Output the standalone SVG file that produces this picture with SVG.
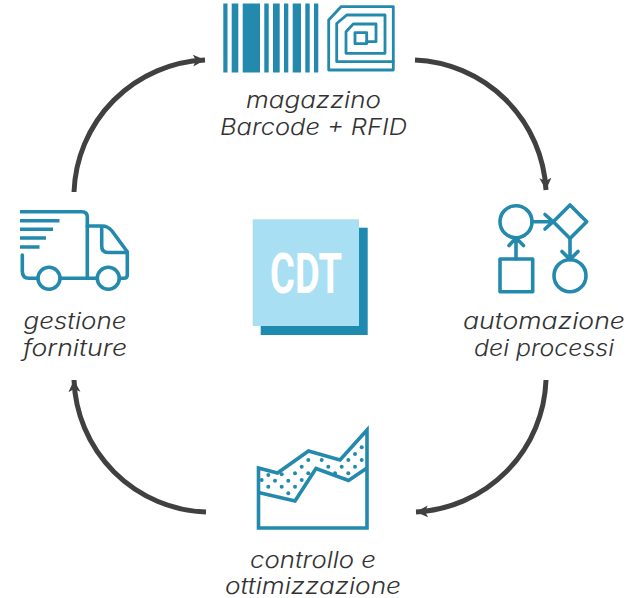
<svg xmlns="http://www.w3.org/2000/svg" width="638" height="598" viewBox="0 0 638 598">
<style>
.ln{fill:none;stroke:#2389ad;stroke-width:3.600;stroke-linejoin:round;stroke-linecap:round}
.bar{fill:#2389ad}
.dot{fill:#2389ad}
.lb{font-family:"Inter","Liberation Sans",sans-serif;font-style:italic;font-weight:300;font-size:22.500px;fill:#333}
.arc{fill:none;stroke:#404040;stroke-width:5}
</style>
<defs>
<marker id="ah" markerUnits="userSpaceOnUse" markerWidth="14" markerHeight="14" refX="12" refY="6" orient="auto">
<path d="M0 0L12 6L0 12L3 6Z" fill="#404040"/>
</marker>
</defs>
<rect width="638" height="598" fill="#fff"/>
<g id="connectors">
<path class="arc" d="M415 60A137 137 0 0 1 546 190" marker-end="url(#ah)"/>
<path class="arc" d="M546 380A137 137 0 0 1 416 512" marker-end="url(#ah)"/>
<path class="arc" d="M206 512A137 137 0 0 1 74 380" marker-end="url(#ah)"/>
<path class="arc" d="M74 192A137 137 0 0 1 205 60" marker-end="url(#ah)"/>
</g>
<g id="magazzino">
<g class="bar">
<rect x="223.300" y="3.500" width="4.200" height="69"/>
<rect x="231.700" y="3.500" width="6.600" height="69"/>
<rect x="242.700" y="3.500" width="17.300" height="69"/>
<rect x="264.300" y="3.500" width="4.400" height="69"/>
<rect x="273" y="3.500" width="6.700" height="69"/>
<rect x="284" y="3.500" width="4.300" height="69"/>
<rect x="292.700" y="3.500" width="8.300" height="69"/>
<rect x="305.300" y="3.500" width="4.400" height="69"/>
<rect x="314" y="3.500" width="4.300" height="69"/>
</g>
<path class="ln" style="stroke-width:2.800" d="M328.700 20L341 6.700H393.300V70H328.700Z"/>
<path class="ln" style="stroke-width:2.800" d="M393.300 61.700H336.700V23.500L346.700 15H385V53.300H346V31.700L353.300 24H376V41.700H366.700"/>
<rect class="ln" style="stroke-width:2.800" x="355" y="32.700" width="11.700" height="11"/>
<text class="lb" x="313.500" y="108" text-anchor="middle" textLength="135" lengthAdjust="spacingAndGlyphs">magazzino</text>
<text class="lb" x="313.500" y="135" text-anchor="middle" textLength="187" lengthAdjust="spacingAndGlyphs">Barcode + RFID</text>
</g>
<g id="automazione">
<circle class="ln" cx="516" cy="221.700" r="16"/>
<path class="ln" d="M570 205L586.700 221.700L570 238.400L553.300 221.700Z"/>
<rect class="ln" x="500" y="259" width="32.700" height="32.700"/>
<circle class="ln" cx="570" cy="275.700" r="16"/>
<path class="ln" d="M532 221.700H553M545 214.500L553 221.700L545 229"/>
<path class="ln" d="M516 259V238M509 245.500L516 238L523.500 245.500"/>
<path class="ln" d="M570 238.400V259.500M562 251.500L570 259.500L578 251.500"/>
<text class="lb" x="544" y="329" text-anchor="middle" textLength="162" lengthAdjust="spacingAndGlyphs">automazione</text>
<text class="lb" x="544" y="356" text-anchor="middle" textLength="140" lengthAdjust="spacingAndGlyphs">dei processi</text>
</g>
<g id="controllo">
<path class="ln" style="stroke-linejoin:miter;stroke-linecap:butt" d="M258.500 468L277.500 473L308.500 451L340 460L367 430V528H258.500Z"/>
<path class="ln" style="stroke-linejoin:miter;stroke-linecap:butt" d="M258.500 492.500L295 501L316 468.500L348.500 480.500L367 468"/>
<g class="dot">
<circle cx="268.300" cy="475" r="2"/><circle cx="261.700" cy="480" r="2"/><circle cx="275" cy="480.700" r="2"/>
<circle cx="288.300" cy="480.700" r="2"/><circle cx="281.700" cy="474.300" r="2"/><circle cx="295" cy="473.300" r="2"/>
<circle cx="301.700" cy="466.700" r="2"/><circle cx="308.300" cy="460" r="2"/><circle cx="268.300" cy="486.700" r="2"/>
<circle cx="281.700" cy="486.700" r="2"/><circle cx="295" cy="486.700" r="2"/><circle cx="288.300" cy="493.300" r="2"/>
<circle cx="301.700" cy="480" r="2"/><circle cx="308.300" cy="473.300" r="2"/><circle cx="321.700" cy="460" r="2"/>
<circle cx="328.300" cy="466.700" r="2"/><circle cx="335" cy="473.300" r="2"/>
<circle cx="341.700" cy="466.700" r="2"/><circle cx="348.300" cy="460" r="2"/><circle cx="355" cy="454" r="2"/>
<circle cx="361.700" cy="447.300" r="2"/><circle cx="355" cy="466.700" r="2"/><circle cx="361.700" cy="460" r="2"/>
<circle cx="348.300" cy="473.300" r="2"/>
</g>
<text class="lb" x="313" y="568" text-anchor="middle" textLength="126" lengthAdjust="spacingAndGlyphs">controllo e</text>
<text class="lb" x="313" y="594" text-anchor="middle" textLength="176" lengthAdjust="spacingAndGlyphs">ottimizzazione</text>
</g>
<g id="gestione">
<path class="ln" style="stroke-linecap:butt" d="M20 211.700H82Q87.300 211.700 87.300 217V278"/>
<path class="ln" style="stroke-linecap:butt" d="M20 220.700H59.500M20 229.300H53M20 238H46M20 247H39.500"/>
<path class="ln" d="M22.300 255V271Q22.300 278.300 29 278.300H37"/>
<circle class="ln" cx="49" cy="278.300" r="11"/>
<circle class="ln" cx="108.300" cy="278.300" r="11"/>
<path class="ln" d="M60 278.300H97M119.500 278.300H124Q127.300 278.300 127.300 275V251.700L112 231Q108 226 102 226H87.300"/>
<path class="ln" d="M101.700 228V246Q101.700 252.500 108 252.500H127"/>
<text class="lb" x="75" y="329" text-anchor="middle" textLength="103" lengthAdjust="spacingAndGlyphs">gestione</text>
<text class="lb" x="75" y="356" text-anchor="middle" textLength="104" lengthAdjust="spacingAndGlyphs">forniture</text>
</g>
<g id="cdt">
<rect x="260.700" y="227.700" width="107" height="107.300" fill="#1f8ab0"/>
<rect x="252.700" y="219.300" width="106.300" height="106.700" fill="#a9dff2"/>
<text x="270" y="293" font-family="Roboto,'Liberation Sans',sans-serif" font-weight="700" font-size="56" fill="#fff" textLength="72" lengthAdjust="spacingAndGlyphs">CDT</text>
</g>
</svg>
